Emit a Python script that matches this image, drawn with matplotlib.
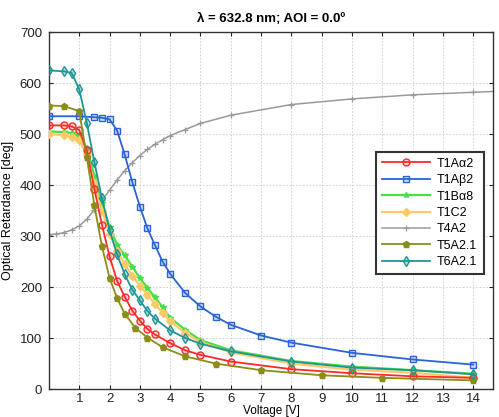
import matplotlib
matplotlib.use("Agg")
import matplotlib.pyplot as plt

plt.rcParams.update({"font.family": ["Liberation Sans", "DejaVu Sans"], "font.size": 9})

# ---- data -------------------------------------------------------------------
x_red = [0, 0.5, 0.75, 1.0, 1.25, 1.5, 1.75, 2.0, 2.25, 2.5, 2.75, 3.0, 3.25, 3.5, 4.0, 4.5, 5, 6, 8, 10, 12, 14]
y_red = [517, 517, 515, 508, 468, 392, 322, 260, 212, 181, 154, 134, 118, 107, 90, 76, 67, 54, 39, 31, 25, 22]

x_blue = [0, 1.0, 1.5, 1.75, 2.0, 2.25, 2.5, 2.75, 3.0, 3.25, 3.5, 3.75, 4.0, 4.5, 5, 5.5, 6, 7, 8, 10, 12, 14]
y_blue = [535, 535, 533, 532, 529, 507, 460, 406, 358, 315, 282, 250, 226, 188, 162, 142, 126, 105, 91, 71, 58, 48]

x_std = [0, 0.5, 0.75, 1.0, 1.25, 1.5, 1.75, 2.0, 2.25, 2.5, 2.75, 3.0, 3.25, 3.5, 3.75, 4.0, 4.5, 5, 6, 8, 10, 12, 14]
y_green = [505, 504, 502, 496, 472, 418, 365, 318, 283, 262, 240, 218, 198, 180, 160, 140, 116, 96, 76, 55, 44, 37, 30]
y_yellow = [500, 498, 495, 488, 460, 405, 350, 305, 270, 245, 222, 203, 185, 166, 150, 133, 110, 92, 72, 50, 38, 32, 22]

x_gray = [0, 0.25, 0.5, 0.75, 1.0, 1.25, 1.5, 1.75, 2.0, 2.25, 2.5, 2.75, 3.0, 3.25, 3.5, 3.75, 4.0, 4.5, 5, 6, 8, 10, 12, 14, 16]
y_gray = [303, 304, 307, 312, 320, 333, 352, 370, 390, 410, 428, 444, 458, 470, 480, 489, 497, 509, 521, 537, 558, 569, 577, 582, 587]

x_olive = [0, 0.5, 1.0, 1.25, 1.5, 1.75, 2.0, 2.25, 2.5, 2.85, 3.25, 3.75, 4.5, 5.5, 7, 9, 11, 14]
y_olive = [556, 555, 545, 455, 360, 280, 218, 178, 148, 120, 101, 82, 64, 50, 37, 27, 22, 17]

x_teal = [0, 0.5, 0.75, 1.0, 1.25, 1.5, 1.75, 2.0, 2.25, 2.5, 2.75, 3.0, 3.25, 3.5, 4.0, 4.5, 5, 6, 8, 10, 12, 14]
y_teal = [625, 623, 620, 588, 522, 445, 374, 312, 264, 225, 195, 174, 153, 138, 115, 100, 89, 74, 54, 42, 37, 29]

labels = ["T1A\u03b12", "T1A\u03b22", "T1B\u03b18", "T1C2", "T4A2", "T5A2.1", "T6A2.1"]

# ---- plot ---------------------------------------------------------------------
fig = plt.figure(figsize=(4.99, 4.17), dpi=100)
ax = fig.add_axes([0.098, 0.067, 0.89, 0.856])

ax.plot(x_red, y_red, color="#ff2a2a", lw=1.3, marker="o", ms=5, mfc="#ff2a2a33", mec="#ff2a2a", mew=1, label=labels[0], zorder=4)
ax.plot(x_blue, y_blue, color="#2a62d8", lw=1.3, marker="s", ms=4.5, mfc="#2a62d833", mec="#2a62d8", mew=1, label=labels[1], zorder=4)
ax.plot(x_std, y_green, color="#44e044", lw=1.6, marker="*", ms=4, mec="#44e044", label=labels[2], zorder=3)
ax.plot(x_std, y_yellow, color="#ffc966", lw=1.6, marker="D", ms=4, mfc="#ffc966", mec="#ffc966", label=labels[3], zorder=3)
ax.plot(x_gray, y_gray, color="#9a9a9a", lw=1.1, marker="+", ms=4, mew=0.9, label=labels[4], zorder=2)
ax.plot(x_olive, y_olive, color="#8c8c1a", lw=1.3, marker="p", ms=4.5, mfc="#8c8c1a", mec="#8c8c1a", label=labels[5], zorder=4)
ax.plot(x_teal, y_teal, color="#1e9696", lw=1.3, marker="d", ms=5, mfc="#1e969655", mec="#1e9696", mew=1, label=labels[6], zorder=4)

ax.set_xlim(0, 14.65)
ax.set_ylim(0, 700)
ax.set_xticks(range(1, 15))
ax.set_yticks(range(0, 701, 100))
ax.tick_params(direction="in", top=True, right=True, length=3, labelsize=9.5, colors="#222222", pad=5)
ax.tick_params(axis="x", pad=3)
ax.grid(True, color="#cccccc", ls=(0, (2, 2)), lw=0.6)
for s in ax.spines.values():
    s.set_color("#333333")
    s.set_linewidth(1.0)

ax.set_title("\u03bb = 632.8 nm; AOI = 0.0\u00ba", fontsize=9.5, fontweight="bold", pad=7)
ax.set_ylabel("Optical Retardance [deg]", fontsize=9, labelpad=4)
ax.set_xlabel("Voltage [V]", fontsize=8.5, labelpad=0)

leg = ax.legend(loc="upper right", bbox_to_anchor=(0.993, 0.683), fontsize=9, fancybox=False,
                framealpha=1, edgecolor="#333333", borderpad=0.5, labelspacing=0.35,
                handlelength=3.8, handletextpad=0.6)
leg.get_frame().set_linewidth(1.5)

fig.savefig("out.png", dpi=100)
